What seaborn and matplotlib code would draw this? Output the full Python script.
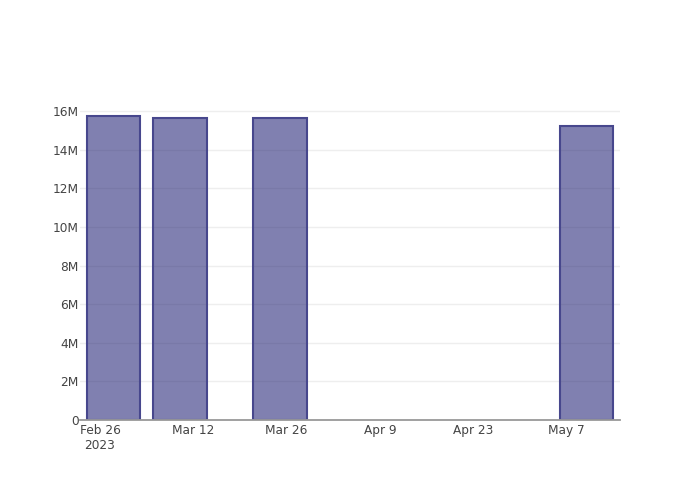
import pandas as pd
import numpy as np
import matplotlib
matplotlib.use('Agg')
import matplotlib.pyplot as plt
import matplotlib.dates as mdates
import seaborn as sns

# Data
dates = ['2023-02-28', '2023-03-10', '2023-03-25', '2023-05-10']
values = [15.74e6, 15.64e6, 15.64e6, 15.22e6]
tick_dates = ['2023-02-26', '2023-03-12', '2023-03-26', '2023-04-09', '2023-04-23', '2023-05-07']
tick_labels = ['Feb 26\n2023', 'Mar 12', 'Mar 26', 'Apr 9', 'Apr 23', 'May 7']
y_ticks = [0, 2e6, 4e6, 6e6, 8e6, 10e6, 12e6, 14e6, 16e6]
y_labels = ['0', '2M', '4M', '6M', '8M', '10M', '12M', '14M', '16M']

sns.set_theme(style='white')
plt.rcParams['font.family'] = ['DejaVu Sans']

df = pd.DataFrame({'date': mdates.date2num(pd.to_datetime(dates)), 'value': values})

fig = plt.figure(figsize=(7, 5), dpi=100)
ax = fig.add_axes([80 / 700, 80 / 500, 540 / 700, 320 / 500])

# midnightblue at ~55% opacity
fill = (25 / 255, 25 / 255, 112 / 255, 0.55)
edge = (71 / 255, 71 / 255, 141 / 255, 1.0)
sns.barplot(data=df, x='date', y='value', native_scale=True, width=0.8,
            color='#191970', ax=ax, errorbar=None)
for p in ax.patches:
    p.set_alpha(None)
    p.set_facecolor(fill)
    p.set_edgecolor(edge)
    p.set_linewidth(1.5)

x_ticks = mdates.date2num(pd.to_datetime(tick_dates))
ax.set_xticks(x_ticks)
ax.set_xticklabels(tick_labels, fontsize=8.7, color='#444444')
ax.set_xlim(mdates.date2num(pd.Timestamp('2023-02-23')), mdates.date2num(pd.Timestamp('2023-05-15')))

ax.set_yticks(y_ticks)
ax.set_yticklabels(y_labels, fontsize=8.7, color='#444444')
ax.set_ylim(0, 16.57e6)

ax.grid(axis='y', color='#eeeeee', linewidth=1)
ax.grid(axis='x', visible=False)
ax.set_axisbelow(True)
ax.tick_params(axis='y', length=0, pad=1)
ax.tick_params(axis='x', length=0, pad=3)
ax.set_xlabel('')
ax.set_ylabel('')
for s in ['top', 'right', 'left']:
    ax.spines[s].set_visible(False)
ax.spines['bottom'].set_color('#999999')
ax.spines['bottom'].set_linewidth(1.3)

fig.savefig('out.png', dpi=100)
